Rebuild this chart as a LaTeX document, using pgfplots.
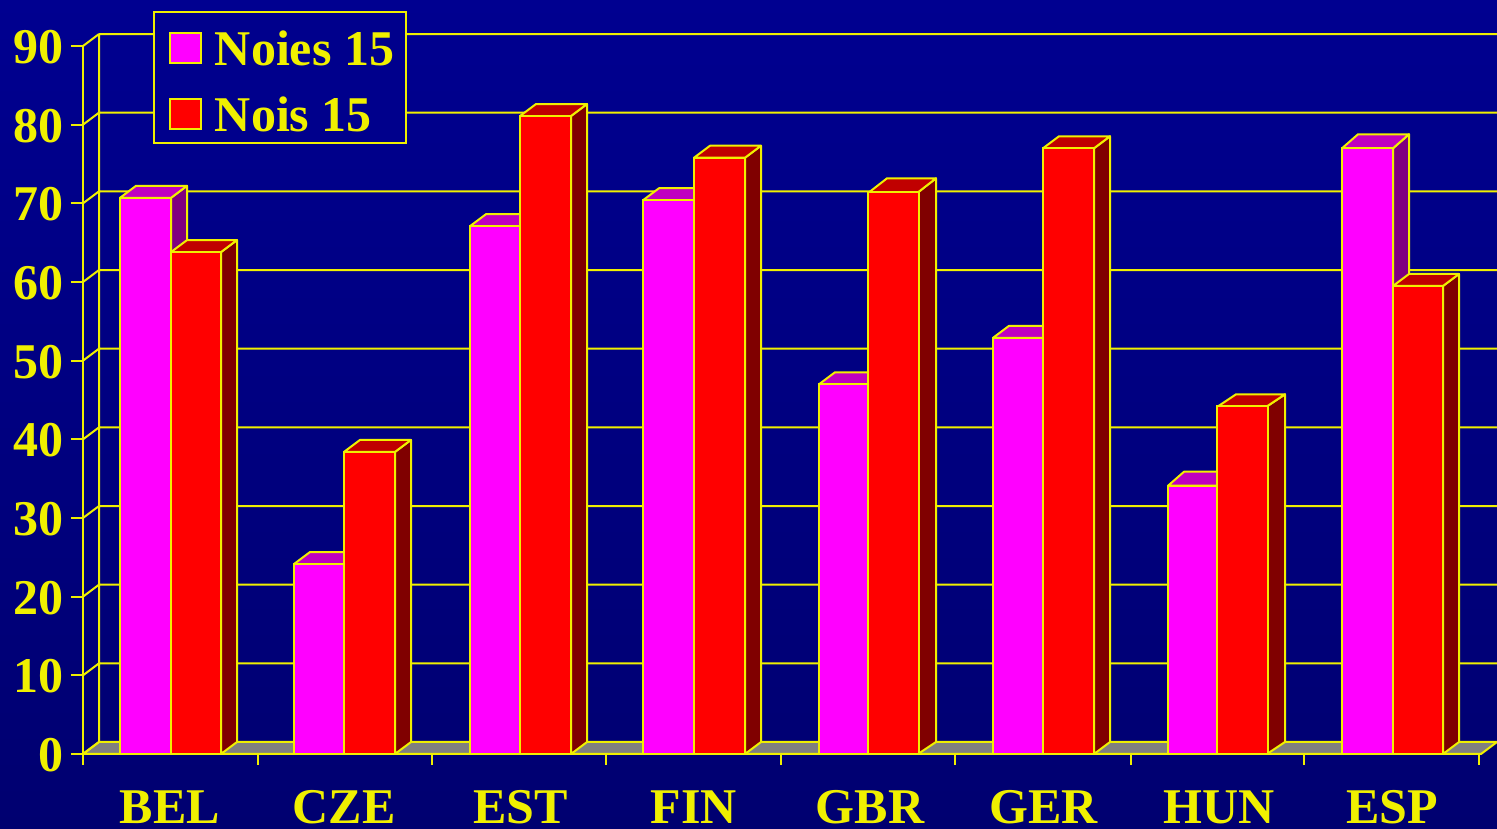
\documentclass[border=0pt]{standalone}
\usepackage{fontspec}
\setmainfont{Liberation Serif}
\usepackage{pgfplots}
\pgfplotsset{compat=1.18}
\definecolor{yl}{HTML}{F0F000}
\definecolor{bgtop}{HTML}{000090}
\definecolor{bgbot}{HTML}{000070}
\definecolor{bgleg}{HTML}{00008C}
\definecolor{mag}{HTML}{FF00FF}
\definecolor{magtop}{HTML}{C000C0}
\definecolor{magside}{HTML}{800080}
\definecolor{rd}{HTML}{FF0000}
\definecolor{rdtop}{HTML}{C00000}
\definecolor{rdside}{HTML}{800000}
\definecolor{flr}{HTML}{808080}
\def\ddx{16}\def\ddy{1.525}
\newcommand{\threeD}[5]{%
  \pgfmathsetmacro{\xa}{#1+\ddx}%
  \pgfmathsetmacro{\xb}{#2+\ddx}%
  \pgfmathsetmacro{\vb}{#3+\ddy}%
  \addplot[forget plot,fill=#5,draw=yl,line width=2pt,line join=round] coordinates {(#2,#3) (\xb,\vb) (\xb,1.525) (#2,0)} --cycle;
  \addplot[forget plot,fill=#4,draw=yl,line width=2pt,line join=round] coordinates {(#1,#3) (\xa,\vb) (\xb,\vb) (#2,#3)} --cycle;
}
\begin{document}
\begin{tikzpicture}[x=1pt,y=1pt]
\useasboundingbox (0,0) rectangle (1497,829);
\shade[top color=bgtop,bottom color=bgbot] (0,0) rectangle (1497,829);
\begin{axis}[
  at={(83pt,75pt)},anchor=south west,
  scale only axis,width=1398pt,height=708pt,
  xmin=83,xmax=1481,ymin=0,ymax=90,
  clip=false,
  axis x line*=bottom,axis y line*=left,
  axis line style={draw=yl,line width=2pt,-},
  unbounded coords=jump,
  tick style={draw=yl,line width=2pt},
  tick align=outside,
  major tick length=12pt,
  minor tick length=11pt,
  ytick={0,10,20,30,40,50,60,70,80,90},
  xtick={169,343,519.5,693,869,1042.5,1218.5,1391},
  xticklabels={BEL,CZE,EST,FIN,GBR,GER,HUN,ESP},
  x tick style={draw=none},
  minor xtick={83,258,432,606,781,955,1131,1304,1479},
  minor x tick style={draw=yl,line width=2pt},
  /pgf/number format/assume math mode=true,
  tick label style={font=\fontsize{50}{54}\selectfont\bfseries,text=yl},
  yticklabel style={anchor=east,xshift=-4pt,yshift=-1pt},
  xticklabel style={anchor=base,yshift=-58pt,xshift=1pt,inner sep=0pt,text depth=0pt},
  legend style={at={(axis cs:153,94.44)},anchor=north west,fill=bgleg,draw=yl,line width=2pt,
    font=\fontsize{50}{54}\selectfont\bfseries,text=yl,
    inner xsep=10pt,inner ysep=8pt,row sep=26pt,
    cells={anchor=west}},
  legend cell align=left,
]
% floor
\addplot[forget plot,fill=flr,draw=yl,line width=2pt] coordinates {(83,0) (99,1.525) (1497,1.525) (1481,0)} --cycle;
% back wall gridlines
\addplot[forget plot,draw=yl,line width=2pt] coordinates {
 (99,11.525)(1497,11.525)(99,nan)
 (99,21.525)(1497,21.525)(99,nan)
 (99,31.525)(1497,31.525)(99,nan)
 (99,41.525)(1497,41.525)(99,nan)
 (99,51.525)(1497,51.525)(99,nan)
 (99,61.525)(1497,61.525)(99,nan)
 (99,71.525)(1497,71.525)(99,nan)
 (99,81.525)(1497,81.525)(99,nan)
 (99,91.525)(1497,91.525)(99,nan)
 (99,1.525)(99,91.525)(99,nan)
 (83,0)(99,1.525)(83,nan)
 (83,10)(99,11.525)(83,nan)
 (83,20)(99,21.525)(83,nan)
 (83,30)(99,31.525)(83,nan)
 (83,40)(99,41.525)(83,nan)
 (83,50)(99,51.525)(83,nan)
 (83,60)(99,61.525)(83,nan)
 (83,70)(99,71.525)(83,nan)
 (83,80)(99,81.525)(83,nan)
 (83,90)(99,91.525)
};
% magenta depth faces
\threeD{120}{171}{70.7}{magtop}{magside}
\threeD{294}{344}{24.15}{magtop}{magside}
\threeD{470}{520}{67.1}{magtop}{magside}
\threeD{643}{694}{70.4}{magtop}{magside}
\threeD{819}{869}{47.0}{magtop}{magside}
\threeD{993}{1043}{52.9}{magtop}{magside}
\def\ddy{1.78}
\threeD{1168}{1218}{34.1}{magtop}{magside}
\threeD{1342}{1393}{77.0}{magtop}{magside}
\def\ddy{1.525}
% magenta front
\addplot[ybar,bar width=50.5,bar shift=0pt,fill=mag,draw=yl,line width=2pt,
  legend image code/.code={\draw[fill=mag,draw=yl,line width=2pt] (5pt,-19pt) rectangle (36pt,11pt);\path (0pt,0pt) (47pt,0pt);}]
  coordinates {(145.5,70.7)(319,24.15)(495,67.1)(668.5,70.4)(844,47.0)(1018,52.9)(1193,34.1)(1367.5,77.0)};
\addlegendentry{\rule{0pt}{43pt}Noies 15}
% red depth faces
\threeD{171}{221}{63.8}{rdtop}{rdside}
\threeD{344}{395}{38.4}{rdtop}{rdside}
\threeD{520}{571}{81.1}{rdtop}{rdside}
\threeD{694}{745}{75.8}{rdtop}{rdside}
\def\ddx{18}\def\ddy{1.78}
\threeD{869}{918}{71.4}{rdtop}{rdside}
\def\ddx{16}\def\ddy{1.525}
\threeD{1043}{1094}{77.0}{rdtop}{rdside}
\def\ddx{18}
\threeD{1218}{1267}{44.2}{rdtop}{rdside}
\def\ddx{16}
\threeD{1393}{1443}{59.5}{rdtop}{rdside}
% red front
\addplot[ybar,bar width=50.5,bar shift=0pt,fill=rd,draw=yl,line width=2pt,
  legend image code/.code={\draw[fill=rd,draw=yl,line width=2pt] (5pt,-14pt) rectangle (36pt,16pt);\path (0pt,0pt) (47pt,0pt);}]
  coordinates {(196,63.8)(369.5,38.4)(545.5,81.1)(719.5,75.8)(893.5,71.4)(1068.5,77.0)(1242.5,44.2)(1418,59.5)};
\addlegendentry{Nois 15}
\end{axis}
\end{tikzpicture}
\end{document}
